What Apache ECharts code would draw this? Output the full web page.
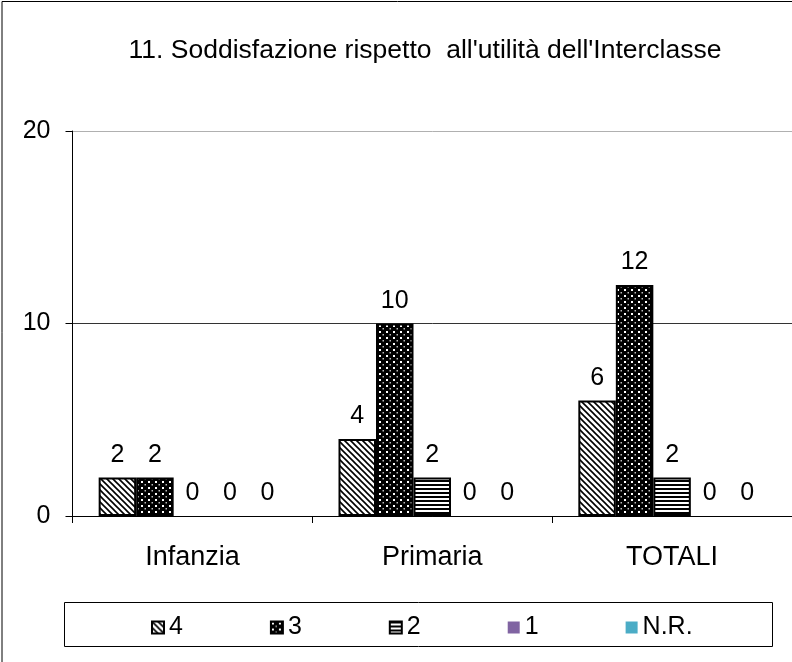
<!DOCTYPE html>
<html>
<head>
<meta charset="utf-8">
<script src="https://cdn.jsdelivr.net/npm/echarts@6/dist/echarts.min.js"></script>
<style>
  html, body { margin: 0; padding: 0; background: #fff; }
  #chart { width: 792px; height: 662px; }
</style>
</head>
<body>
<div id="chart"></div>
<script>
// Categories and counts per answer level
const categories = ['Infanzia', 'Primaria', 'TOTALI'];
const seriesNames = ['4', '3', '2', '1', 'N.R.'];
const values4 = [2, 4, 6];
const values3 = [2, 10, 12];
const values2 = [0, 2, 2];
const values1 = [0, 0, 0];
const valuesNR = [0, 0, 0];
const yTicks = { min: 0, max: 20, interval: 10 };

const FONT = '"Liberation Sans", Arial, sans-serif';

// Fill patterns drawn on small canvas tiles
function tile(w, h, draw) {
  const c = document.createElement('canvas');
  c.width = w; c.height = h;
  const ctx = c.getContext('2d');
  draw(ctx, w, h);
  return { image: c, repeat: 'repeat' };
}
const diagPattern = tile(6, 6, (ctx, w, h) => {
  ctx.fillStyle = '#fff'; ctx.fillRect(0, 0, w, h);
  ctx.strokeStyle = '#000'; ctx.lineWidth = 1.6;
  ctx.beginPath();
  ctx.moveTo(-2, -2); ctx.lineTo(w + 2, h + 2);
  ctx.moveTo(-2, h - 2); ctx.lineTo(2, h + 2);
  ctx.moveTo(w - 2, -2); ctx.lineTo(w + 2, 2);
  ctx.stroke();
});
const dotPattern = tile(7, 6, (ctx, w, h) => {
  ctx.fillStyle = '#000'; ctx.fillRect(0, 0, w, h);
  ctx.fillStyle = '#fff';
  ctx.fillRect(1, 1, 2, 2);
  ctx.fillStyle = '#bbb';
  ctx.fillRect(4.5, 4, 1.5, 1.5);
});
const hPattern = tile(4, 4, (ctx, w, h) => {
  ctx.fillStyle = '#fff'; ctx.fillRect(0, 0, w, h);
  ctx.fillStyle = '#000'; ctx.fillRect(0, 0, w, 2);
});

const fills = [diagPattern, dotPattern, hPattern, '#8064A2', '#4BACC6'];
const data = [values4, values3, values2, values1, valuesNR];

const chart = echarts.init(document.getElementById('chart'));

const series = seriesNames.map((name, i) => ({
  name: name,
  type: 'bar',
  // zero-height bars carry no outline
  data: data[i].map(v => v === 0 ? { value: v, itemStyle: { borderWidth: 0 } } : v),
  barWidth: 37.5,
  barGap: '0%',
  itemStyle: {
    color: fills[i],
    borderColor: i < 3 ? '#000' : 'transparent',
    borderWidth: i < 3 ? 2 : 0
  },
  label: {
    show: true,
    position: 'top',
    distance: 10,
    color: '#000',
    fontFamily: FONT,
    fontSize: 25
  },
  emphasis: { disabled: true }
}));

chart.setOption({
  animation: false,
  backgroundColor: '#fff',
  title: {
    text: "11. Soddisfazione rispetto  all'utilità dell'Interclasse",
    left: 420,
    textAlign: 'center',
    top: 32,
    textStyle: { fontFamily: FONT, fontSize: 26.5, fontWeight: 'normal', color: '#000' }
  },
  grid: { left: 72.5, top: 131, width: 727.5, height: 385, containLabel: false },
  xAxis: {
    type: 'category',
    data: categories,
    axisLine: { lineStyle: { color: '#000', width: 1 } },
    axisTick: { show: true, length: 7, lineStyle: { color: '#000' } },
    axisLabel: { color: '#000', fontFamily: FONT, fontSize: 27, margin: 28 }
  },
  yAxis: {
    type: 'value',
    min: yTicks.min,
    max: yTicks.max,
    interval: yTicks.interval,
    axisLine: { show: true, lineStyle: { color: '#000', width: 1 } },
    axisTick: { show: true, length: 7, lineStyle: { color: '#000' } },
    axisLabel: { color: '#000', fontFamily: FONT, fontSize: 25, margin: 22 },
    splitLine: { show: true, lineStyle: { color: ['#000', '#333', '#b0b0b0'], width: 1 } }
  },
  legend: {
    data: seriesNames,
    left: 151,
    top: 615,
    orient: 'horizontal',
    itemWidth: 12,
    itemHeight: 12,
    itemGap: 87,
    icon: 'rect',
    padding: 0,
    textStyle: { color: '#000', fontFamily: FONT, fontSize: 25 },
    selectedMode: false
  },
  graphic: [{
    type: 'rect',
    silent: true,
    shape: { x: 2, y: 1.5, width: 900, height: 900 },
    style: { fill: 'none', stroke: '#000', lineWidth: 1 }
  }, {
    type: 'rect',
    silent: true,
    shape: { x: 64.5, y: 602.5, width: 708, height: 44 },
    style: { fill: 'none', stroke: '#000', lineWidth: 1 }
  }],
  series: series
});
</script>
</body>
</html>
